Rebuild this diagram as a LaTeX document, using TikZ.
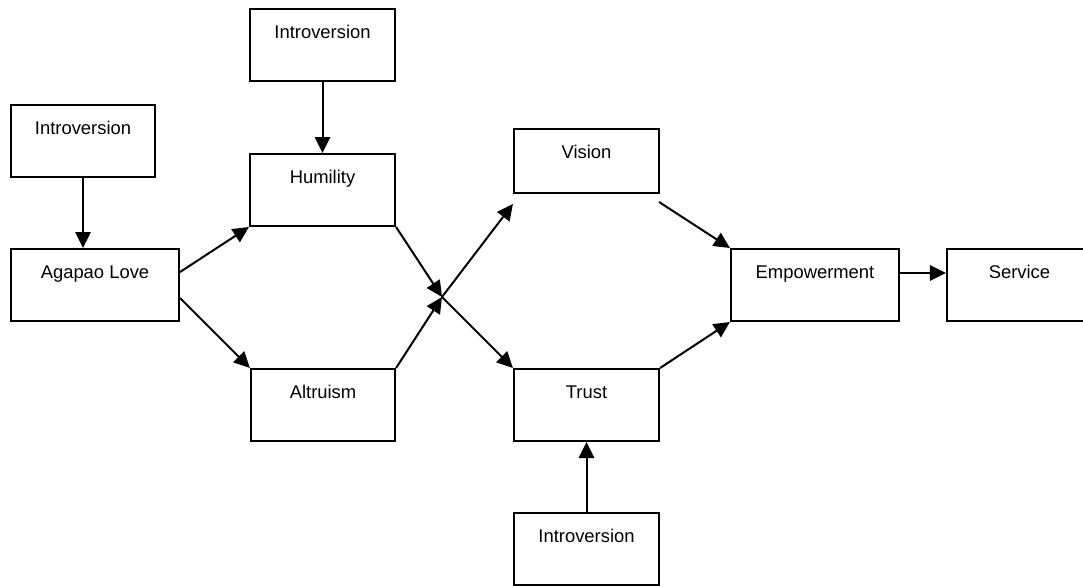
\documentclass[tikz,border=0pt]{standalone}
\usepackage{fontspec}
\setmainfont{Liberation Sans}
\usetikzlibrary{arrows.meta}
\begin{document}
\begin{tikzpicture}[x=0.75pt,y=-0.75pt,
  box/.style={draw, line width=1.6pt, inner sep=0pt, font=\fontsize{13.8pt}{16pt}\selectfont,
    text height=22pt, text depth=31.9pt, minimum width=108.75pt},
  widebox/.style={box, minimum width=126pt},
  shortbox/.style={box, text depth=25.9pt},
  arr/.style={line width=1.5pt, -{Triangle[length=12pt,width=11.5pt]}},
  ln/.style={line width=1.5pt}]
\fill[white] (0,0) rectangle (1083,586);
\useasboundingbox (0,0) rectangle (1083,586);

\node[box] (introTop) at (322.5,45) {Introversion};
\node[box, minimum width=108pt] (introLeft) at (83,141) {Introversion};
\node[widebox] (agapao) at (95,285) {Agapao Love};
\node[box] (humility) at (322.5,190) {Humility};
\node[box, minimum width=108pt] (altruism) at (323,405) {Altruism};
\node[shortbox] (vision) at (586.5,161) {Vision};
\node[box] (trust) at (586.5,405) {Trust};
\node[box] (introBottom) at (586.5,549) {Introversion};
\node[widebox] (empower) at (815,285) {Empowerment};
\node[box] (service) at (1019.5,285) {Service};
\coordinate (X) at (442,297);

\draw[arr] (introTop) -- (humility);
\draw[arr] (introLeft.south) -- (introLeft.south |- agapao.north);
\draw[arr] ([yshift=9.75pt]agapao.east) -- (humility.south west);
\draw[arr] ([yshift=-9.75pt]agapao.east) -- (altruism.north west);
\draw[arr] (humility.south east) -- (X);
\draw[arr] (altruism.north east) -- (X);
\draw[arr] (X) -- ([yshift=-7.5pt]vision.south west);
\draw[arr] (X) -- (trust.north west);
\draw[arr] ([xshift=-0.75pt,yshift=-6pt]vision.south east) -- (empower.north west);
\draw[arr] (trust.north east) -- (empower.south west);
\draw[arr] ([yshift=9pt]empower.east) -- ([yshift=9pt]service.west);
\draw[arr] (introBottom) -- (trust);
\end{tikzpicture}
\end{document}
